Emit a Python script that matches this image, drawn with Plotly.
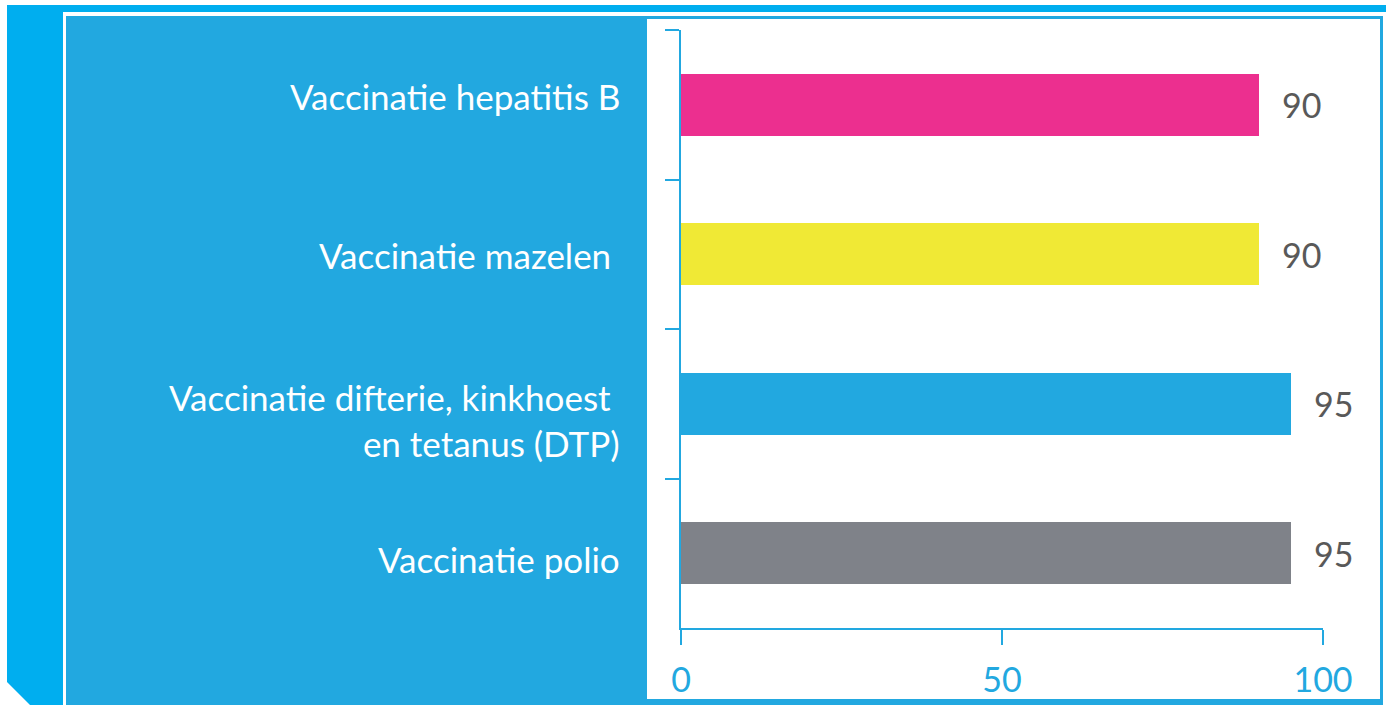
import plotly.graph_objects as go

# data, top to bottom as in the picture
categories = [
    "Vaccinatie hepatitis B",
    "Vaccinatie mazelen\u00a0",
    "Vaccinatie difterie, kinkhoest\u00a0<br>en tetanus (DTP)",
    "Vaccinatie polio",
]
values = [90, 90, 95, 95]
bar_colors = ["#EC2F8F", "#F0E935", "#22A8E0", "#7F8289"]
x_ticks = [0, 50, 100]

# the labels in the original sit a little off the band centres
label_shift = [9, -1, -16, -6]

W, H = 1386, 705
# plot area in pixels
L, R, T, B = 681, 1323, 30, 628

FONT = "Lato, Calibri, sans-serif"
DARK_BLUE = "#00AEEF"
PANEL_BLUE = "#22A8E0"


def px(x):
    return (x - L) / (R - L)


def py(y):
    return (B - y) / (B - T)


fig = go.Figure()

fig.add_trace(go.Bar(
    x=values,
    y=categories,
    orientation="h",
    marker=dict(color=bar_colors, line_width=0),
    width=0.415,
    hoverinfo="skip",
))

for cat, val, shift in zip(categories, values, label_shift):
    # value to the right of the bar
    fig.add_annotation(
        x=val, y=cat, text=str(val),
        showarrow=False, xanchor="left", xshift=21,
        font=dict(family=FONT, size=34, color="#595959"),
    )
    # category name in the blue panel
    fig.add_annotation(
        x=0, y=cat, text=cat,
        showarrow=False, xanchor="right", align="right",
        xshift=-59, yshift=shift,
        font=dict(family=FONT, size=35, color="white"),
    )

# frame: dark blue outer band with a cut corner, white gap, panel
outer = (f"M {px(7)},{py(5)} L {px(W)},{py(5)} L {px(W)},{py(H)} "
         f"L {px(30)},{py(H)} L {px(7)},{py(682)} Z")
fig.add_shape(type="path", path=outer, xref="paper", yref="paper",
              fillcolor=DARK_BLUE, line_width=0, layer="below")
fig.add_shape(type="rect", xref="paper", yref="paper",
              x0=px(63), x1=px(W), y0=py(12), y1=py(H),
              fillcolor="white", line_width=0, layer="below")
fig.add_shape(type="rect", xref="paper", yref="paper",
              x0=px(66), x1=px(1383), y0=py(16), y1=py(H),
              fillcolor=PANEL_BLUE, line_width=0, layer="below")
fig.add_shape(type="rect", xref="paper", yref="paper",
              x0=px(647), x1=px(1380), y0=py(19), y1=py(699),
              fillcolor="white", line_width=0, layer="below")

fig.update_layout(
    width=W, height=H,
    margin=dict(l=L, r=W - R, t=T, b=H - B, pad=0),
    paper_bgcolor="white",
    plot_bgcolor="rgba(0,0,0,0)",
    showlegend=False,
    bargap=0,
    xaxis=dict(
        range=[0, 100], tickvals=x_ticks, automargin=False,
        showgrid=False, zeroline=False,
        showline=True, linecolor=PANEL_BLUE, linewidth=2,
        ticks="outside", ticklen=15, tickwidth=2, tickcolor=PANEL_BLUE,
        tickfont=dict(family=FONT, size=34, color=PANEL_BLUE),
        ticklabelstandoff=6,
    ),
    yaxis=dict(
        type="category", autorange="reversed", automargin=False,
        showgrid=False, zeroline=False, showticklabels=False,
        showline=True, linecolor=PANEL_BLUE, linewidth=2,
        ticks="outside", tickson="boundaries", ticklen=14, tickwidth=2,
        tickcolor=PANEL_BLUE,
    ),
)

# drop the default page margin so the figure sits at the window corner
fig.write_html("out.html", config={"displayModeBar": False},
               post_script="document.body.style.margin = '0';")
